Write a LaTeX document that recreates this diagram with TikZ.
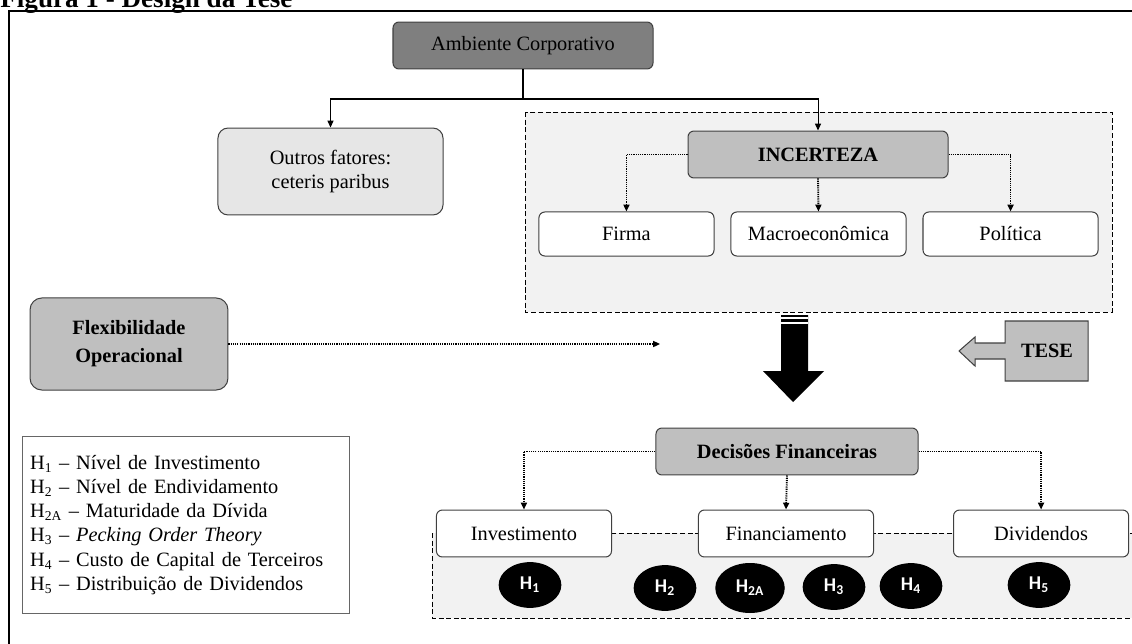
\documentclass[tikz,border=0pt]{standalone}
\usepackage{fontspec}
\setmainfont{Liberation Serif}
\newfontfamily\hypfont{Carlito}
\usetikzlibrary{arrows.meta,positioning,shapes.geometric}
\definecolor{BoxDark}{HTML}{7F7F7F}
\definecolor{BoxMid}{HTML}{BFBFBF}
\definecolor{BoxLight}{HTML}{E6E6E6}
\definecolor{ZoneFill}{HTML}{F2F2F2}
\definecolor{EdgeGray}{HTML}{404040}

\begin{document}
\begin{tikzpicture}[x=0.59pt,y=-0.59pt,
        font=\fontsize{12}{14.2}\selectfont,
        roundbox/.style={rounded corners=3.5pt,draw=EdgeGray,line width=0.6pt,
                     inner sep=0pt,align=center},
        headbox/.style={roundbox,fill=BoxMid,font=\fontsize{12}{14.2}\selectfont\bfseries,
                     minimum width=153.4pt,minimum height=27.7pt},
        leafbox/.style={roundbox,fill=white,minimum width=103.3pt,minimum height=26pt},
        zone/.style={draw=black,dash pattern=on 3pt off 1.5pt,fill=ZoneFill,line width=0.5pt},
        hyp/.style={ellipse,fill=black,text=white,inner sep=0pt,
                     font=\hypfont\bfseries\fontsize{11.5}{13}\selectfont,
                     minimum width=37pt,minimum height=27pt},
        solidarrow/.style={line width=0.6pt,-{Triangle[length=4pt,width=3.5pt]}},
        dotarrow/.style={line width=1.1pt,dash pattern=on 0.7pt off 0.6pt,
                     -{Triangle[length=4pt,width=3.5pt]}}]
        \clip (0,0) rectangle (1132,643);
        \node[anchor=base west,inner sep=0pt,font=\fontsize{16}{19}\selectfont\bfseries]
              (title) at (0,7) {Figura 1 - Design da Tese};
        \draw[line width=1.2pt] (9,11) rectangle (1160,670);
        % dashed zones
        \draw[zone] (525,112) rectangle (1112,312);
        \draw[zone] (432,533) rectangle (1160,618);
        % upper part
        \node[roundbox,fill=BoxDark,minimum width=153.4pt,minimum height=27.7pt]
              (amb) at (523,45.5) {Ambiente Corporativo};
        \node[roundbox,rounded corners=6pt,fill=BoxLight,minimum width=132.8pt,
              minimum height=51.3pt] (outros) at (330.5,171.5)
              {Outros fatores:\\ceteris paribus};
        \node[headbox] (inc) at (818,154.5) {INCERTEZA};
        \node[leafbox] (macro) at (818.5,234) {Macroeconômica};
        \node[leafbox,left=9.4pt of macro] (firma) {Firma};
        \node[leafbox,right=9.4pt of macro] (pol) {Política};
        \coordinate (fork) at (523,99);
        \draw[line width=0.6pt] (amb.south) -- (fork);
        \draw[solidarrow] (fork) -| (outros.north);
        \draw[solidarrow] (fork) -| (inc.north);
        \draw[dotarrow] (inc.west) -| (firma.north);
        \draw[dotarrow] (inc.south) -- (macro.north);
        \draw[dotarrow] (inc.east) -| (pol.north);
        % middle part
        \node[roundbox,rounded corners=7pt,fill=BoxMid,minimum width=116.8pt,
              minimum height=54.3pt,font=\fontsize{12}{16.5}\selectfont\bfseries]
              (flex) at (129,344) {Flexibilidade\\Operacional};
        \coordinate (flexend) at (660,344);
        \draw[dotarrow] (flex.east) -- (flexend);
        \fill (781,315) -- (808,315) -- (808,371) -- (824,371) -- (793,402)
              -- (763,371) -- (781,371) -- cycle;
        \draw[white,line width=0.9pt] (781,318) -- (808,318);
        \draw[white,line width=1.2pt] (781,323) -- (808,323);
        \filldraw[fill=BoxMid,draw=EdgeGray,line width=0.6pt]
              (1005,321) -- (1088,321) -- (1088,381) -- (1005,381) -- (1005,359)
              -- (975,359) -- (975,366) -- (959,351) -- (975,337) -- (975,343)
              -- (1005,343) -- cycle;
        \node[font=\fontsize{12}{14.2}\selectfont\bfseries] (tese) at (1047,351) {TESE};
        % legend
        \node[draw=EdgeGray!80,line width=0.6pt,align=left,text width=184pt,
              inner sep=4.7pt,minimum height=104.4pt] (legend) at (186,525)
              {H\textsubscript{1} -- Nível de Investimento\\
               H\textsubscript{2} -- Nível de Endividamento\\
               H\textsubscript{2A} -- Maturidade da Dívida\\
               H\textsubscript{3} -- \textit{Pecking Order Theory}\\
               H\textsubscript{4} -- Custo de Capital de Terceiros\\
               H\textsubscript{5} -- Distribuição de Dividendos};
        % lower part
        \node[headbox,minimum width=154.6pt] (dec) at (787,451.5) {Decisões Financeiras};
        \node[leafbox,minimum height=27.7pt] (fin) at (786,533.5) {Financiamento};
        \node[leafbox,minimum height=27.7pt,left=50.7pt of fin] (inv) {Investimento};
        \node[leafbox,minimum height=27.7pt,right=46.6pt of fin] (div) {Dividendos};
        \draw[dotarrow] (dec.west) -| (inv.north);
        \draw[dotarrow] (dec.south) -- (fin.north);
        \draw[dotarrow] (dec.east) -| (div.north);
        \node[hyp] (h1) at (530,585) {H\textsubscript{1}};
        \node[hyp] (h2) at (665,588) {H\textsubscript{2}};
        \node[hyp,minimum width=41pt,minimum height=29.5pt] (h2a) at (750,588)
              {H\textsubscript{2A}};
        \node[hyp] (h3) at (834,587) {H\textsubscript{3}};
        \node[hyp] (h4) at (911,586) {H\textsubscript{4}};
        \node[hyp] (h5) at (1039,585) {H\textsubscript{5}};
      \end{tikzpicture}
\end{document}
